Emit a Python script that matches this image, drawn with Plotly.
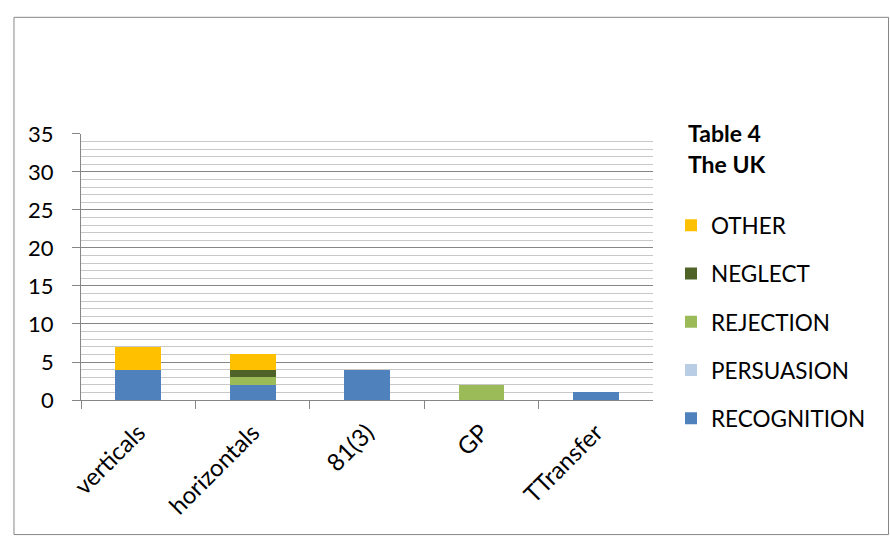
import plotly.graph_objects as go

categories = ["verticals", "horizontals", "81(3)", "GP", "TTransfer"]
recognition = [4, 2, 4, 0, 1]
persuasion = [0, 0, 0, 0, 0]
rejection = [0, 1, 0, 2, 0]
neglect = [0, 1, 0, 0, 0]
other = [3, 2, 0, 0, 0]

series = [
    ("RECOGNITION", recognition, "#4F81BD"),
    ("PERSUASION", persuasion, "#B9CDE5"),
    ("REJECTION", rejection, "#9BBB59"),
    ("NEGLECT", neglect, "#4F6228"),
    ("OTHER", other, "#FFC000"),
]

W, H = 890, 549
FONT = "Lato"

fig = go.Figure()
n = len(series)
for i, (name, vals, col) in enumerate(series):
    fig.add_trace(go.Bar(x=categories, y=vals, name=name, marker_color=col,
                         marker_line_width=0, legendgroup=name, legendrank=n - i,
                         width=0.4))

fig.update_layout(
    width=W, height=H,
    margin=dict(l=0, r=0, t=0, b=0),
    paper_bgcolor="white", plot_bgcolor="white",
    barmode="stack",
    font=dict(family=FONT, size=22, color="black"),
    showlegend=True,
    legend=dict(x=668 / W, y=1 - 200 / H, xanchor="left", yanchor="top",
                traceorder="grouped", tracegroupgap=16,
                font=dict(family=FONT, size=22.5, color="black"),
                bgcolor="rgba(0,0,0,0)"),
    xaxis=dict(domain=[70 / W, 650 / W], type="category",
               showline=True, linecolor="#868686", linewidth=1,
               ticks="outside", tickson="boundaries", ticklen=8, tickcolor="#868686",
               tickangle=-45, showgrid=False, ticklabelstandoff=8,
               tickfont=dict(family=FONT, size=24)),
    yaxis=dict(domain=[1 - 406 / H, 1 - 126 / H], range=[0, 35], dtick=5,
               showline=True, linecolor="#868686", linewidth=1,
               ticks="outside", ticklen=8, tickcolor="#868686",
               showgrid=True, gridcolor="#868686", gridwidth=1, zeroline=False,
               ticklabelstandoff=14,
               minor=dict(dtick=1, showgrid=True, gridcolor="#C8C8C8", gridwidth=1, ticks=""),
               tickfont=dict(family=FONT, size=22)),
    shapes=[dict(type="rect", xref="paper", yref="paper",
                 x0=2 / W, x1=888.5 / W, y0=1 - 547.5 / H, y1=1 - 3.5 / H,
                 line=dict(color="#868686", width=1), layer="below")],
    annotations=[
        dict(text="<b>Table 4</b>", xref="paper", yref="paper", x=683 / W, y=1 - 125 / H,
             xanchor="left", yanchor="middle", showarrow=False,
             font=dict(family=FONT, size=23, color="black")),
        dict(text="<b>The UK</b>", xref="paper", yref="paper", x=683 / W, y=1 - 158 / H,
             xanchor="left", yanchor="middle", showarrow=False,
             font=dict(family=FONT, size=23, color="black")),
    ],
)

fig.write_html("out.html")
